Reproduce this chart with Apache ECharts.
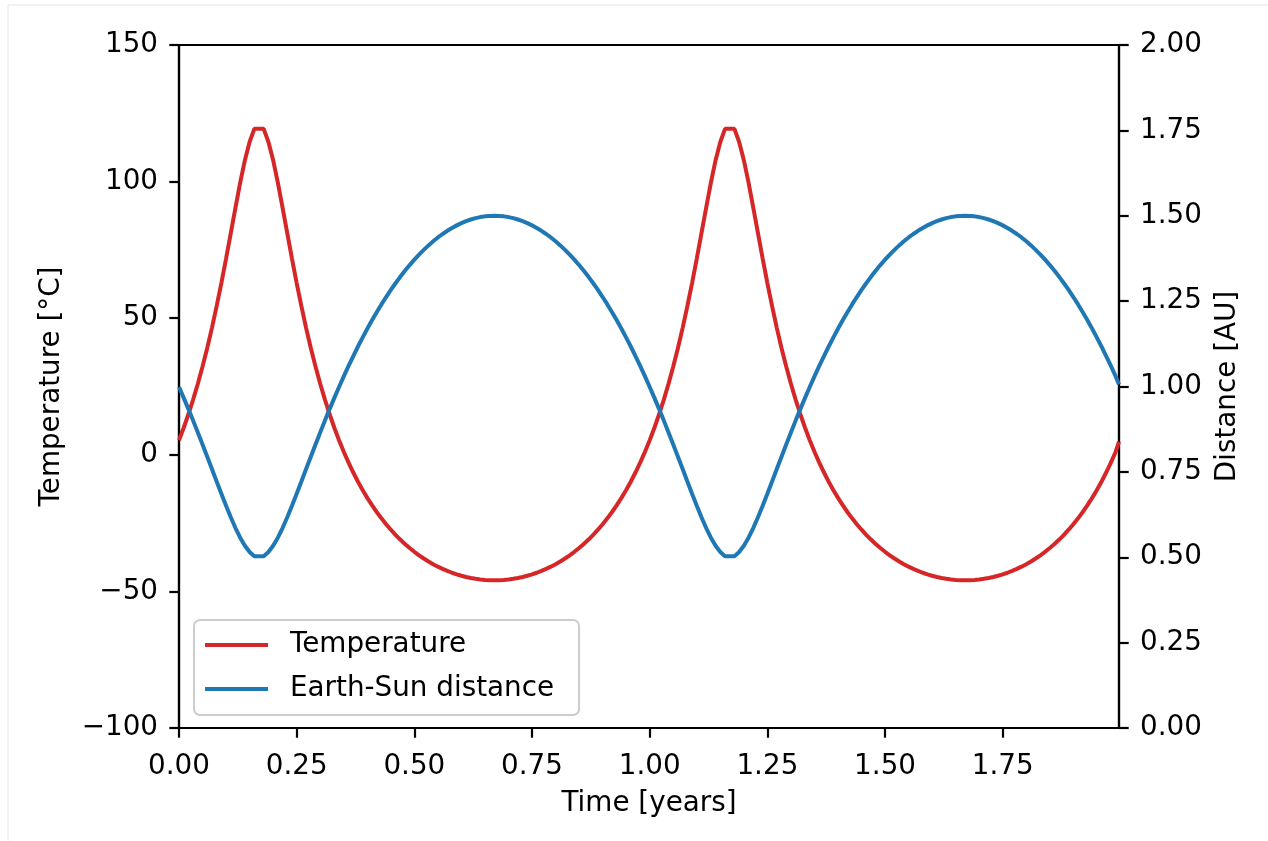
<!DOCTYPE html>
<html>
<head>
<meta charset="utf-8">
<script src="https://cdn.jsdelivr.net/npm/echarts@6/dist/echarts.min.js"></script>
<style>
  html, body { margin: 0; padding: 0; background: #ffffff; }
  #chart { width: 1268px; height: 841px; }
</style>
</head>
<body>
<div id="chart"></div>
<script>
// ---- Data ----
const TIME = [
  0.00, 0.01, 0.02, 0.03, 0.04, 0.05, 0.06, 0.07, 0.08, 0.09,
  0.10, 0.11, 0.12, 0.13, 0.14, 0.15, 0.16, 0.18, 0.19,
  0.20, 0.21, 0.22, 0.23, 0.24, 0.25, 0.26, 0.27, 0.28, 0.29,
  0.30, 0.31, 0.32, 0.33, 0.34, 0.35, 0.36, 0.37, 0.38, 0.39,
  0.40, 0.41, 0.42, 0.43, 0.44, 0.45, 0.46, 0.47, 0.48, 0.49,
  0.50, 0.51, 0.52, 0.53, 0.54, 0.55, 0.56, 0.57, 0.58, 0.59,
  0.60, 0.61, 0.62, 0.63, 0.64, 0.65, 0.66, 0.67, 0.68, 0.69,
  0.70, 0.71, 0.72, 0.73, 0.74, 0.75, 0.76, 0.77, 0.78, 0.79,
  0.80, 0.81, 0.82, 0.83, 0.84, 0.85, 0.86, 0.87, 0.88, 0.89,
  0.90, 0.91, 0.92, 0.93, 0.94, 0.95, 0.96, 0.97, 0.98, 0.99,
  1.00, 1.01, 1.02, 1.03, 1.04, 1.05, 1.06, 1.07, 1.08, 1.09,
  1.10, 1.11, 1.12, 1.13, 1.14, 1.15, 1.16, 1.18, 1.19,
  1.20, 1.21, 1.22, 1.23, 1.24, 1.25, 1.26, 1.27, 1.28, 1.29,
  1.30, 1.31, 1.32, 1.33, 1.34, 1.35, 1.36, 1.37, 1.38, 1.39,
  1.40, 1.41, 1.42, 1.43, 1.44, 1.45, 1.46, 1.47, 1.48, 1.49,
  1.50, 1.51, 1.52, 1.53, 1.54, 1.55, 1.56, 1.57, 1.58, 1.59,
  1.60, 1.61, 1.62, 1.63, 1.64, 1.65, 1.66, 1.67, 1.68, 1.69,
  1.70, 1.71, 1.72, 1.73, 1.74, 1.75, 1.76, 1.77, 1.78, 1.79,
  1.80, 1.81, 1.82, 1.83, 1.84, 1.85, 1.86, 1.87, 1.88, 1.89,
  1.90, 1.91, 1.92, 1.93, 1.94, 1.95, 1.96, 1.97, 1.98, 1.99,
  1.997
];

const TEMPERATURE = [
  5.33, 9.90, 14.84, 20.20, 26.00, 32.29, 39.10, 46.47, 54.40, 62.86,
  71.83, 81.12, 90.51, 99.60, 107.84, 114.51, 119.3, 119.3, 114.51,
  107.84, 99.60, 90.51, 81.12, 71.83, 62.86, 54.40, 46.47, 39.10, 32.29,
  26.00, 20.20, 14.84, 9.90, 5.33, 1.12, -2.79, -6.40, -9.76, -12.87,
  -15.76, -18.44, -20.94, -23.26, -25.42, -27.42, -29.29, -31.02, -32.63, -34.13,
  -35.51, -36.78, -37.96, -39.05, -40.04, -40.94, -41.76, -42.50, -43.17, -43.76,
  -44.27, -44.71, -45.08, -45.39, -45.62, -45.79, -45.89, -45.92, -45.89, -45.79,
  -45.62, -45.39, -45.08, -44.71, -44.27, -43.76, -43.17, -42.50, -41.76, -40.94,
  -40.04, -39.05, -37.96, -36.78, -35.51, -34.13, -32.63, -31.02, -29.29, -27.42,
  -25.42, -23.26, -20.94, -18.44, -15.76, -12.87, -9.76, -6.40, -2.79, 1.12,
  5.33, 9.90, 14.84, 20.20, 26.00, 32.29, 39.10, 46.47, 54.40, 62.86,
  71.83, 81.12, 90.51, 99.60, 107.84, 114.51, 119.3, 119.3, 114.51,
  107.84, 99.60, 90.51, 81.12, 71.83, 62.86, 54.40, 46.47, 39.10, 32.29,
  26.00, 20.20, 14.84, 9.90, 5.33, 1.12, -2.79, -6.40, -9.76, -12.87,
  -15.76, -18.44, -20.94, -23.26, -25.42, -27.42, -29.29, -31.02, -32.63, -34.13,
  -35.51, -36.78, -37.96, -39.05, -40.04, -40.94, -41.76, -42.50, -43.17, -43.76,
  -44.27, -44.71, -45.08, -45.39, -45.62, -45.79, -45.89, -45.92, -45.89, -45.79,
  -45.62, -45.39, -45.08, -44.71, -44.27, -43.76, -43.17, -42.50, -41.76, -40.94,
  -40.04, -39.05, -37.96, -36.78, -35.51, -34.13, -32.63, -31.02, -29.29, -27.42,
  -25.42, -23.26, -20.94, -18.44, -15.76, -12.87, -9.76, -6.40, -2.79, 1.12,
  4.8
];

const DISTANCE = [
  0.9987, 0.9667, 0.9338, 0.9001, 0.8655, 0.8302, 0.7943, 0.7582, 0.7219, 0.6860,
  0.6508, 0.6171, 0.5856, 0.5574, 0.5336, 0.5154, 0.5030, 0.5030, 0.5154,
  0.5336, 0.5574, 0.5856, 0.6171, 0.6508, 0.6860, 0.7219, 0.7582, 0.7943, 0.8302,
  0.8655, 0.9001, 0.9338, 0.9667, 0.9987, 1.0296, 1.0596, 1.0885, 1.1164, 1.1432,
  1.1691, 1.1938, 1.2176, 1.2403, 1.2620, 1.2827, 1.3024, 1.3211, 1.3389, 1.3556,
  1.3714, 1.3863, 1.4002, 1.4132, 1.4253, 1.4364, 1.4466, 1.4559, 1.4643, 1.4718,
  1.4785, 1.4842, 1.4890, 1.4930, 1.4961, 1.4982, 1.4996, 1.5000, 1.4996, 1.4982,
  1.4961, 1.4930, 1.4890, 1.4842, 1.4785, 1.4718, 1.4643, 1.4559, 1.4466, 1.4364,
  1.4253, 1.4132, 1.4002, 1.3863, 1.3714, 1.3556, 1.3389, 1.3211, 1.3024, 1.2827,
  1.2620, 1.2403, 1.2176, 1.1938, 1.1691, 1.1432, 1.1164, 1.0885, 1.0596, 1.0296,
  0.9987, 0.9667, 0.9338, 0.9001, 0.8655, 0.8302, 0.7943, 0.7582, 0.7219, 0.6860,
  0.6508, 0.6171, 0.5856, 0.5574, 0.5336, 0.5154, 0.5030, 0.5030, 0.5154,
  0.5336, 0.5574, 0.5856, 0.6171, 0.6508, 0.6860, 0.7219, 0.7582, 0.7943, 0.8302,
  0.8655, 0.9001, 0.9338, 0.9667, 0.9987, 1.0296, 1.0596, 1.0885, 1.1164, 1.1432,
  1.1691, 1.1938, 1.2176, 1.2403, 1.2620, 1.2827, 1.3024, 1.3211, 1.3389, 1.3556,
  1.3714, 1.3863, 1.4002, 1.4132, 1.4253, 1.4364, 1.4466, 1.4559, 1.4643, 1.4718,
  1.4785, 1.4842, 1.4890, 1.4930, 1.4961, 1.4982, 1.4996, 1.5000, 1.4996, 1.4982,
  1.4961, 1.4930, 1.4890, 1.4842, 1.4785, 1.4718, 1.4643, 1.4559, 1.4466, 1.4364,
  1.4253, 1.4132, 1.4002, 1.3863, 1.3714, 1.3556, 1.3389, 1.3211, 1.3024, 1.2827,
  1.2620, 1.2403, 1.2176, 1.1938, 1.1691, 1.1432, 1.1164, 1.0885, 1.0596, 1.0296,
  1.006
];

const SERIES_NAMES = ['Temperature', 'Earth-Sun distance'];
const X_TICKS = [0, 0.25, 0.5, 0.75, 1.0, 1.25, 1.5, 1.75];
const TEMP_TICKS = [-100, -50, 0, 50, 100, 150];
const DIST_TICKS = [0, 0.25, 0.5, 0.75, 1.0, 1.25, 1.5, 1.75, 2.0];
const X_MAX = 1.997;

// ---- Chart ----
const FONT = 'DejaVu Sans';
const FS = 27.8;
const txt = { fontFamily: FONT, fontSize: FS, color: '#000' };
const axisLineStyle = { color: '#000', width: 2.2 };
const minus = s => String(s).replace('-', '\u2212');

const chart = echarts.init(document.getElementById('chart'), null, { renderer: 'canvas' });

chart.setOption({
  animation: false,
  backgroundColor: '#ffffff',
  grid: {
    left: 179, top: 45, width: 940, height: 683,
    show: true, borderColor: '#000', borderWidth: 2.2, backgroundColor: 'transparent'
  },
  legend: {
    left: 194, top: 620,
    orient: 'vertical',
    icon: 'rect',
    itemWidth: 63, itemHeight: 4, itemGap: 12,
    padding: [9, 25, 10, 11],
    backgroundColor: '#ffffff',
    borderColor: '#cccccc', borderWidth: 2, borderRadius: 6,
    textStyle: Object.assign({}, txt, { lineHeight: 32, padding: [0, 0, 0, 17] }),
    data: SERIES_NAMES
  },
  xAxis: {
    type: 'value', min: 0, max: X_MAX, interval: 0.25,
    axisLine: { show: true, onZero: false, lineStyle: axisLineStyle },
    axisTick: { show: true, length: 9.7, lineStyle: axisLineStyle, customValues: X_TICKS },
    axisLabel: Object.assign({}, txt, {
      margin: 25, customValues: X_TICKS,
      formatter: v => Number(v).toFixed(2)
    }),
    splitLine: { show: false },
    name: 'Time [years]', nameLocation: 'middle', nameGap: 62,
    nameTextStyle: txt
  },
  yAxis: [
    {
      type: 'value', position: 'left', min: -100, max: 150, interval: 50,
      axisLine: { show: true, onZero: false, lineStyle: axisLineStyle },
      axisTick: { show: true, length: 9.7, lineStyle: axisLineStyle, customValues: TEMP_TICKS },
      axisLabel: Object.assign({}, txt, {
        margin: 21, customValues: TEMP_TICKS,
        formatter: v => minus(v)
      }),
      splitLine: { show: false },
      name: 'Temperature [°C]', nameLocation: 'middle', nameGap: 113, nameRotate: 90,
      nameTextStyle: txt
    },
    {
      type: 'value', position: 'right', min: 0, max: 2, interval: 0.25,
      axisLine: { show: true, onZero: false, lineStyle: axisLineStyle },
      axisTick: { show: true, length: 9.7, lineStyle: axisLineStyle, customValues: DIST_TICKS },
      axisLabel: Object.assign({}, txt, {
        margin: 21, customValues: DIST_TICKS,
        formatter: v => Number(v).toFixed(2)
      }),
      splitLine: { show: false },
      name: 'Distance [AU]', nameLocation: 'middle', nameGap: 95, nameRotate: 90,
      nameTextStyle: txt
    }
  ],
  series: [
    {
      name: SERIES_NAMES[0], type: 'line', yAxisIndex: 0,
      symbol: 'none', showSymbol: false,
      lineStyle: { color: '#d62728', width: 4 },
      itemStyle: { color: '#d62728' },
      data: TIME.map((t, i) => [t, TEMPERATURE[i]]),
      z: 2
    },
    {
      name: SERIES_NAMES[1], type: 'line', yAxisIndex: 1,
      symbol: 'none', showSymbol: false,
      lineStyle: { color: '#1f77b4', width: 4 },
      itemStyle: { color: '#1f77b4' },
      data: TIME.map((t, i) => [t, DISTANCE[i]]),
      z: 3
    }
  ],
  graphic: [
    { type: 'line', shape: { x1: 8, y1: 5, x2: 8, y2: 841 }, style: { stroke: '#e6e6e6', lineWidth: 1 }, silent: true },
    { type: 'line', shape: { x1: 8, y1: 5, x2: 1268, y2: 5 }, style: { stroke: '#e6e6e6', lineWidth: 1 }, silent: true }
  ]
});
</script>
</body>
</html>
